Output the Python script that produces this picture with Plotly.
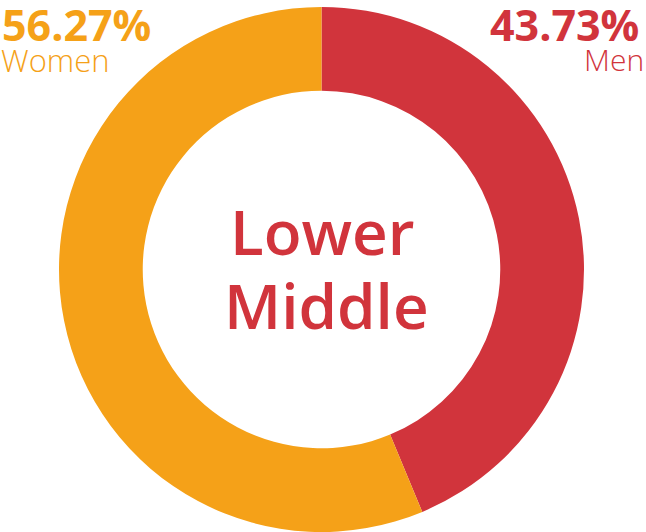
import plotly.graph_objects as go

labels = ["Men", "Women"]
values = [43.73, 56.27]
colors = ["#D1343C", "#F5A118"]
center_lines = ["Lower", "Middle"]

W, H = 646, 532

def px(x, y):
    return x / W, 1 - y / H

fig = go.Figure(go.Pie(
    labels=labels, values=values, hole=0.681, sort=False,
    direction="clockwise", rotation=0,
    marker=dict(colors=colors, line=dict(width=0)),
    textinfo="none", hoverinfo="none", showlegend=False,
    domain=dict(x=[59 / W, 584 / W], y=[0, (H - 7) / H]),
))

anns = []
def ann(text, x, y, size, color, xanchor, family="Open Sans", weight="normal"):
    ax, ay = px(x, y)
    anns.append(dict(text=text, x=ax, y=ay, xref="paper", yref="paper",
                     xanchor=xanchor, yanchor="middle", showarrow=False,
                     font=dict(family=family, size=size, color=color, weight=weight)))

men_pct = f"{values[0]:.2f}%"
women_pct = f"{values[1]:.2f}%"
ann(women_pct, 0, 24, 43, colors[1], "left", weight="bold")
ann(labels[1], -1, 60, 31, colors[1], "left", weight=300)
ann(men_pct, 641, 24, 43, colors[0], "right", weight="bold")
ann(labels[0], 646, 60, 30, colors[0], "right", weight=300)
ann(center_lines[0], 322, 231, 62, colors[0], "center", weight=600)
ann(center_lines[1], 326, 305, 62, colors[0], "center", weight=600)

fig.update_layout(width=W, height=H, margin=dict(l=0, r=0, t=0, b=0),
                  paper_bgcolor="white", plot_bgcolor="white", annotations=anns)
fig.write_html("out.html")
